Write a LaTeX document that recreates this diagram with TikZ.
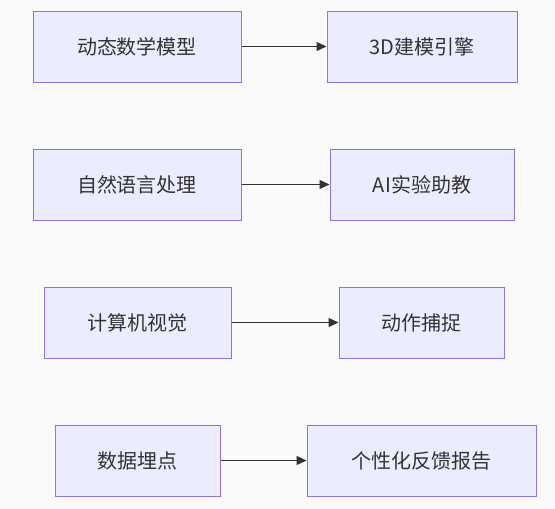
\documentclass[tikz,border=0pt]{standalone}
\usepackage{fontspec}
\newfontfamily\cjk{Noto Sans CJK SC}
\usepackage{tikz}
\usetikzlibrary{arrows.meta,positioning}

\definecolor{boxfill}{HTML}{ECECFF}
\definecolor{boxline}{HTML}{9370DB}
\definecolor{inkgray}{HTML}{333333}
\definecolor{bggray}{HTML}{FAFAFA}

\begin{document}
\begin{tikzpicture}[x=1pt, y=-1pt,
		box/.style = {draw=boxline, fill=boxfill, line width=1pt, minimum height=71pt, inner sep=0pt,
			font=\cjk\fontsize{20}{24}\selectfont, text=inkgray},
		flow/.style = {-{Triangle[length=10pt,width=9pt]}, draw=inkgray, fill=inkgray, line width=1.3pt},
	]
	\fill[bggray] (0,0) rectangle (555,509);
	\useasboundingbox (0,0) rectangle (555,509);

	% left column
	\node[box, minimum width=208pt] (model) at (137,46.5) {动态数学模型};
	\node[box, minimum width=208pt] (nlp) at (137,184.5) {自然语言处理};
	\node[box, minimum width=187pt] (vision) at (137.5,322.5) {计算机视觉};
	\node[box, minimum width=165pt] (track) at (137.5,460.5) {数据埋点};

	% right column
	\node[box, minimum width=190pt] (engine) at (422,46.5) {3D建模引擎};
	\node[box, minimum width=184pt] (tutor) at (422,184.5) {AI实验助教};
	\node[box, minimum width=165pt] (mocap) at (421.5,322.5) {动作捕捉};
	\node[box, minimum width=229pt] (report) at (421.5,460.5) {个性化反馈报告};

	\draw[flow] (model) -- (engine);
	\draw[flow] (nlp) -- (tutor);
	\draw[flow] (vision) -- (mocap);
	\draw[flow] (track) -- (report);

\end{tikzpicture}
\end{document}
